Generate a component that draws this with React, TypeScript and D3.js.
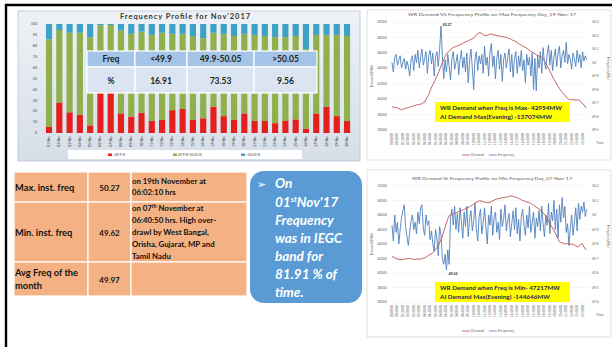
import React from 'react';
import * as d3 from 'd3';

// ---------- Bar chart data (Frequency Profile for Nov'2017) ----------
const dayLabels = ["01-Nov","02-Nov","03-Nov","04-Nov","05-Nov","06-Nov","07-Nov","08-Nov","09-Nov","10-Nov","11-Nov","12-Nov","13-Nov","14-Nov","15-Nov","16-Nov","17-Nov","18-Nov","19-Nov","20-Nov","21-Nov","22-Nov","23-Nov","24-Nov","25-Nov","26-Nov","27-Nov","28-Nov","29-Nov","30-Nov"];
const belowPct = [5.5,28,19,16.5,7,42,40,18,15,18.5,11,12,21,22,12,13.5,24,15.5,12,18,11,11,9,11,12.5,4,18,24,15.5,11];
const withinPct = [80.5,66.5,73,75.5,81,57,59,76,76,74.5,79,80,70,69,77,73.5,68,75.5,77,73,79,78,79,77,76.5,73,72,66,74.5,78];
const abovePct = [14,5.5,8,8,12,1,1,6,9,7,10,8,9,9,11,13,8,9,11,9,10,11,12,12,11,23,10,10,10,11];
const pctTicks = [0,10,20,30,40,50,60,70,80,90,100];
const seriesNames = ["<49.9 %","49.9 %-50.05 %",">50.05 %"];
const bandHeaders = ["Freq","<49.9","49.9-50.05",">50.05"];
const bandValues = ["%","16.91","73.53","9.56"];

// ---------- Line charts ----------
const timeLabels = ["00:00:00","00:40:00","01:20:00","02:00:00","02:40:00","03:20:00","04:00:00","04:40:00","05:20:00","06:00:00","06:40:00","07:20:00","08:00:00","08:40:00","09:20:00","10:00:00","10:40:00","11:20:00","12:00:00","12:40:00","13:20:00","14:00:00","14:40:00","15:20:00","16:00:00","16:40:00","17:20:00","18:00:00","18:40:00","19:20:00","20:00:00","20:40:00","21:20:00","22:00:00","22:40:00","23:20:00"];

// 19-Nov-17, frequency every 10 min (Hz)
const maxDayFreq = [
  50.00,49.93,50.04,50.06,49.98,50.02, 50.05,49.96,50.00,50.03,49.95,50.01,
  49.97,49.90,50.02,50.05,49.94,50.06, 50.00,50.09,49.96,50.04,50.10,49.98,
  50.03,50.08,49.92,50.05,50.09,49.99, 50.07,49.90,50.04,50.08,49.97,50.10,
  50.27,50.05,49.88,50.02,49.93,50.06, 49.97,49.87,50.03,50.08,49.95,50.00,
  50.06,49.91,50.02,50.09,49.96,50.04, 49.93,50.07,49.85,50.01,50.10,49.96,
  49.80,50.03,50.08,49.94,50.05,49.99, 50.06,49.92,50.12,49.98,50.04,49.90,
  50.08,50.14,49.97,50.05,49.88,50.03, 50.09,49.95,50.06,49.86,50.02,50.07,
  49.96,50.04,50.10,49.93,50.06,49.89, 50.03,50.08,49.92,50.05,49.97,50.09,
  49.94,50.02,49.85,50.06,49.98,50.04, 49.90,50.07,49.80,50.03,49.79,50.05,
  49.96,50.08,49.92,50.11,50.00,49.95, 50.06,50.13,49.98,50.09,49.94,50.04,
  50.10,49.97,50.07,50.12,49.96,50.05, 50.09,50.00,50.15,49.99,50.06,50.02,
  49.95,50.07,50.03,49.97,50.09,50.00, 50.06,49.96,50.08,50.01,50.05,50.02
];
// 19-Nov-17, WR demand every 15 min (MW)
const maxDayDemand = [
  39050,38900,38950,38800, 38700,38620,38750,38850, 38900,39000,39100,39150,
  39250,39300,39350,39490, 39600,40150,40600,41300, 41900,42400,43000,43600,
  44300,44900,45500,46000, 46200,46500,46690,46800, 46900,47000,47120,47300,
  47400,47500,47650,47780, 47900,48200,48500,48650, 48500,48300,48210,48300,
  48450,48400,48300,48250, 48200,48150,48100,48050, 48000,47900,47800,47650,
  47550,47400,47200,47050, 46900,46750,46600,46400, 46200,46050,45900,45700,
  45600,45500,45200,44800, 44300,43800,43300,42700, 42300,41800,41400,41010,
  40700,40400,40100,39930, 39900,39950,39850,39930, 39800,39500,39270,38840
];
// 07-Nov-17, frequency every 10 min (Hz)
const minDayFreq = [
  49.93,49.82,50.00,49.88,49.95,49.80, 49.90,49.98,50.03,50.07,49.92,49.85,
  49.79,49.88,49.96,50.00,49.90,49.95, 49.87,50.02,49.94,50.05,50.07,49.91,
  49.86,50.00,49.93,49.96,49.83,49.89, 49.80,49.75,49.90,49.84,49.72,49.92,
  49.86,49.70,49.66,49.73,49.62,49.76, 49.66,49.98,50.04,49.93,50.06,49.90,
  50.01,49.88,50.05,49.95,49.84,50.02, 49.92,50.06,49.85,49.97,50.03,49.89,
  49.96,50.08,49.90,49.82,49.99,50.04, 49.87,49.95,50.05,49.91,49.80,50.00,
  49.93,50.06,49.86,49.98,50.02,49.88, 49.95,49.83,50.04,49.92,49.97,50.07,
  49.89,49.96,50.01,49.85,49.94,50.03, 49.90,50.05,49.87,49.97,49.82,49.99,
  50.04,49.93,49.86,50.00,49.91,50.06, 49.88,49.95,50.02,49.84,49.98,49.92,
  50.03,49.89,50.06,49.94,49.85,50.00, 49.93,50.08,49.87,50.02,49.96,50.10,
  49.90,50.04,49.84,50.07,49.95,50.12, 49.98,50.06,49.88,49.94,49.79,49.91,
  50.00,49.86,49.95,50.05,49.89,50.08, 49.97,50.06,50.02,50.09,49.99,50.04
];
// 07-Nov-17, WR demand every 15 min (MW)
const minDayDemand = [
  42280,42150,42000,41900, 41850,41830,41900,41950, 42000,41970,41900,41850,
  41900,41950,41900,42000, 42100,42280,42450,42600, 42800,43100,43500,44000,
  44600,45400,46300,47200, 47900,48100,48200,48300, 48380,48500,48600,48750,
  48840,49000,49150,49300, 49520,49700,49850,49970, 49900,49800,49750,49700,
  49740,49900,50050,50190, 50250,50300,50380,50420, 50450,50550,50640,50600,
  50500,50420,50300,50150, 50000,49900,49800,49740, 49600,49400,49200,49000,
  48840,48600,48300,48000, 47600,47000,46500,46000, 45500,44900,44310,44200,
  44100,44000,44050,43950, 44000,43900,43700,43630, 43800,44090,43600,43190
];
const maxDayDemandTicks = [36000,38000,40000,42000,44000,46000,48000,50000];
const maxDayFreqTicks = [49.5,49.6,49.7,49.8,49.9,50,50.1,50.2,50.3];
const minDayDemandTicks = [36000,38000,40000,42000,44000,46000,48000,50000,52000];
const minDayFreqTicks = [49.4,49.5,49.6,49.7,49.8,49.9,50,50.1,50.2];

const FONT = "Lato, 'Open Sans', 'DejaVu Sans', sans-serif";

function BarPanel() {
  const x = d3.scaleBand<string>().domain(dayLabels).range([43.9, 352.2]).paddingInner(0.4).paddingOuter(0.2);
  const y = d3.scaleLinear().domain([0, 100]).range([133, 24]);
  const rows = dayLabels.map((d, i) => ({ day: d, below: belowPct[i], within: withinPct[i], above: abovePct[i] }));
  const stacked = d3.stack<any>().keys(['below', 'within', 'above'])(rows);
  const colors = ['#e3201e', '#8fb04c', '#3ea2c7'];
  const tableX = [87, 135, 187, 254, 317];
  const tableY = [51, 67, 93];
  return (
    <g>
      <defs>
        <linearGradient id="panelBg" x1="0" y1="0" x2="0" y2="1">
          <stop offset="0" stopColor="#eef2f7" />
          <stop offset="1" stopColor="#d6dee8" />
        </linearGradient>
      </defs>
      <rect x={18} y={11} width={342} height={150} fill="url(#panelBg)" stroke="#b9c6d6" strokeWidth={0.8} />
      <text x={185} y={19} textAnchor="middle" fontSize={7.5} fontWeight="bold" fill="#333" textLength={130} lengthAdjust="spacing" fontFamily={FONT}>Frequency Profile for Nov'2017</text>
      {pctTicks.map(t => (
        <text key={t} x={37} y={y(t) + 1.2} textAnchor="end" fontSize={3.6} fill="#444" fontFamily={FONT}>{t}</text>
      ))}
      {stacked.map((s, k) => (
        <g key={k}>
          {s.map((d: any, i: number) => (
            <rect key={i} x={x(dayLabels[i])} width={x.bandwidth()} y={y(d[1])} height={y(d[0]) - y(d[1])} fill={colors[k]} />
          ))}
        </g>
      ))}
      {dayLabels.map(d => (
        <text key={d} transform={`translate(${(x(d) as number) + x.bandwidth() / 2 + 1},136) rotate(-90)`} textAnchor="end" fontSize={3.2} fill="#333" fontFamily={FONT}>{d}</text>
      ))}
      <rect x={68} y={150} width={234} height={9} fill="#ffffff" />
      {seriesNames.map((n, i) => {
        const lx = [108, 173, 241][i];
        return (
          <g key={n}>
            <rect x={lx} y={153.5} width={4} height={2.5} fill={colors[i]} />
            <text x={lx + 5} y={156} fontSize={3.4} fill="#444" fontFamily={FONT}>{n}</text>
          </g>
        );
      })}
      {/* overlay table */}
      {bandHeaders.map((h, i) => (
        <g key={h}>
          <rect x={tableX[i]} y={tableY[0]} width={tableX[i + 1] - tableX[i]} height={tableY[1] - tableY[0]} fill="#a4c5e8" stroke="#fff" strokeWidth={1.2} />
          <rect x={tableX[i]} y={tableY[1]} width={tableX[i + 1] - tableX[i]} height={tableY[2] - tableY[1]} fill="#dbe5f2" stroke="#fff" strokeWidth={1.2} />
          <text x={(tableX[i] + tableX[i + 1]) / 2} y={62} textAnchor="middle" fontSize={8.5} fontWeight="bold" fill="#222" fontFamily={FONT}>{h}</text>
          <text x={(tableX[i] + tableX[i + 1]) / 2} y={83.5} textAnchor="middle" fontSize={8.5} fontWeight="bold" fill="#222" fontFamily={FONT}>{bandValues[i]}</text>
        </g>
      ))}
    </g>
  );
}

type LineProps = {
  id: string; panelY: number; panelH: number; title: string; titleY: number; titleLen: number;
  plotTop: number; plotBottom: number; demand: number[]; freq: number[];
  demandTicks: number[]; freqTicks: number[]; annotText: string; annotIdx: number; annotDx: number; annotDy: number;
  boxY: number; boxLines: string[]; boxLens: number[]; legendY: number;
};

function LinePanel(p: LineProps) {
  const x = d3.scaleLinear().domain([0, 24]).range([392, 588]);
  const yD = d3.scaleLinear().domain(d3.extent(p.demandTicks) as [number, number]).range([p.plotBottom, p.plotTop]);
  const yF = d3.scaleLinear().domain(d3.extent(p.freqTicks) as [number, number]).range([p.plotBottom, p.plotTop]);
  const dLine = d3.line<number>().x((_, i) => x(i / 4)).y(d => yD(d));
  const fLine = d3.line<number>().x((_, i) => x(i / 6)).y(d => yF(d));
  const ax = x(p.annotIdx / 6), ay = yF(p.freq[p.annotIdx]);
  const midY = (p.plotTop + p.plotBottom) / 2;
  return (
    <g fontFamily={FONT}>
      <rect x={367} y={p.panelY} width={244} height={p.panelH} fill="#fff" stroke="#d9d9d9" strokeWidth={0.8} />
      <text x={492} y={p.titleY} textAnchor="middle" fontSize={4.6} fill="#595959" textLength={p.titleLen} lengthAdjust="spacingAndGlyphs">{p.title}</text>
      {p.demandTicks.map(t => (
        <g key={t}>
          <line x1={390} x2={590} y1={yD(t)} y2={yD(t)} stroke="#ececec" strokeWidth={0.5} />
          <text x={387} y={yD(t) + 1.2} textAnchor="end" fontSize={3.4} fill="#666">{t}</text>
        </g>
      ))}
      {p.freqTicks.map(t => (
        <text key={t} x={592} y={yF(t) + 1.2} fontSize={3.4} fill="#666">{t}</text>
      ))}
      <text transform={`translate(373,${midY}) rotate(-90)`} textAnchor="middle" fontSize={3.6} fill="#666">Demand(MW)</text>
      <text transform={`translate(607,${midY - 8}) rotate(90)`} textAnchor="middle" fontSize={3.6} fill="#666">Frequency(Hz)</text>
      {timeLabels.map((t, i) => (
        <text key={t} transform={`translate(${x(i * 2 / 3) + 1},${p.plotBottom + 3}) rotate(-90)`} textAnchor="end" fontSize={3} fill="#666">{t}</text>
      ))}
      <text x={596} y={p.plotBottom + 14} fontSize={3.6} fill="#666">Time</text>
      <path d={fLine(p.freq) || ''} fill="none" stroke="#4f81bd" strokeWidth={0.9} strokeLinejoin="round" />
      <path d={dLine(p.demand) || ''} fill="none" stroke="#c0504d" strokeWidth={0.9} />
      <text x={ax + p.annotDx} y={ay + p.annotDy} fontSize={3.6} fontWeight="bold" fill="#333">{p.annotText}</text>
      <rect x={435} y={p.boxY} width={135} height={20} fill="#ffff00" />
      {p.boxLines.map((l, i) => (
        <text key={l} x={440} y={p.boxY + 8 + i * 9} fontSize={6.3} fontWeight="bold" fill="#1f1f5f" textLength={p.boxLens[i]} lengthAdjust="spacingAndGlyphs">{l}</text>
      ))}
      <line x1={462} x2={470} y1={p.legendY - 1} y2={p.legendY - 1} stroke="#c0504d" strokeWidth={0.8} />
      <text x={471} y={p.legendY} fontSize={3.5} fill="#666">Demand</text>
      <line x1={489} x2={497} y1={p.legendY - 1} y2={p.legendY - 1} stroke="#4f81bd" strokeWidth={0.8} />
      <text x={498} y={p.legendY} fontSize={3.5} fill="#666">Frequency</text>
    </g>
  );
}

function InfoTable() {
  const cx = [14, 88, 131, 247];
  const ry = [172, 202, 262, 296];
  const t = { fontFamily: FONT, fontWeight: 'bold' as const, fill: '#111' };
  return (
    <g>
      {[0, 1, 2].map(r => [0, 1, 2].map(c => (
        <rect key={`${r}-${c}`} x={cx[c]} y={ry[r]} width={cx[c + 1] - cx[c]} height={ry[r + 1] - ry[r]} fill="#f4b183" stroke="#fff" strokeWidth={1.2} />
      )))}
      <text x={15} y={191} fontSize={9.3} {...t}>Max. inst. freq</text>
      <text x={15} y={236} fontSize={9.3} {...t}>Min. inst. freq</text>
      <text x={15} y={276} fontSize={9.3} {...t}>Avg Freq of the</text>
      <text x={15} y={289} fontSize={9.3} {...t}>month</text>
      <text x={109.5} y={191} fontSize={8} textAnchor="middle" {...t}>50.27</text>
      <text x={109.5} y={236} fontSize={8} textAnchor="middle" {...t}>49.62</text>
      <text x={109.5} y={283} fontSize={8} textAnchor="middle" {...t}>49.97</text>
      <text x={132} y={184} fontSize={7.8} {...t}>on 19th November at</text>
      <text x={132} y={195} fontSize={7.8} {...t}>06:02:10 hrs</text>
      <text x={132} y={211} fontSize={7.8} {...t}>on 07<tspan fontSize={5} dy={-3}>th</tspan><tspan dy={3}> November at</tspan></text>
      <text x={132} y={223} fontSize={7.8} {...t}>06:40:50 hrs. High over-</text>
      <text x={132} y={235} fontSize={7.8} {...t}>drawl by West Bangal,</text>
      <text x={132} y={247} fontSize={7.8} {...t}>Orisha, Gujarat, MP and</text>
      <text x={132} y={259} fontSize={7.8} {...t}>Tamil Nadu</text>
    </g>
  );
}

function Callout() {
  const t = { fontFamily: FONT, fontWeight: 'bold' as const, fontStyle: 'italic' as const, fill: '#fff', fontSize: 13.5 };
  return (
    <g>
      <rect x={250} y={171} width={112} height={132} rx={14} fill="#5b9bd5" />
      <text x={257} y={188} fontFamily="'DejaVu Sans', sans-serif" fontSize={11} fill="#fff">➢</text>
      <text x={275} y={188} {...t}>On</text>
      <text x={275} y={207} {...t}>01<tspan fontSize={8} dy={-5}>st</tspan><tspan dy={5}>Nov'17</tspan></text>
      <text x={275} y={225} {...t}>Frequency</text>
      <text x={275} y={243} {...t}>was in IEGC</text>
      <text x={275} y={261} {...t}>band for</text>
      <text x={275} y={279} {...t}>81.91 % of</text>
      <text x={275} y={297} {...t}>time.</text>
    </g>
  );
}

export default function App() {
  React.useEffect(() => { document.body.style.margin = '0'; }, []);
  return (
    <div style={{ position: 'absolute', left: 0, top: 0 }}>
      <svg width={612} height={347} style={{ display: 'block', background: '#fff' }}>
        <rect x={0} y={0} width={612} height={347} fill="#fff" />
        <line x1={5} x2={612} y1={5} y2={5} stroke="#000" strokeWidth={2.6} />
        <line x1={6} x2={6} y1={4} y2={347} stroke="#000" strokeWidth={2.4} />
        <BarPanel />
        <LinePanel id="max" panelY={10} panelH={150}
          title="WR Demand VS Frequency Profile on Max Frequency Day_19-Nov-17" titleY={16} titleLen={168}
          plotTop={22} plotBottom={130} demand={maxDayDemand} freq={maxDayFreq}
          demandTicks={maxDayDemandTicks} freqTicks={maxDayFreqTicks}
          annotText="50.27" annotIdx={36} annotDx={1.5} annotDy={-0.5}
          boxY={102} boxLines={["WR Demand when Freq is Max- 42954MW", "AI Demand Max(Evening) -137074MW"]} boxLens={[122, 112]}
          legendY={156} />
        <LinePanel id="min" panelY={170} panelH={167}
          title="WR Demand Vs Frequency Profile on Min Frequency Day_07-Nov-17" titleY={180} titleLen={160}
          plotTop={186} plotBottom={302} demand={minDayDemand} freq={minDayFreq}
          demandTicks={minDayDemandTicks} freqTicks={minDayFreqTicks}
          annotText="49.62" annotIdx={40} annotDx={2} annotDy={4.5}
          boxY={282} boxLines={["WR Demand when Freq is Min- 47217MW", "AI Demand Max(Evening) -144646MW"]} boxLens={[120, 110]}
          legendY={332} />
        <InfoTable />
        <Callout />
      </svg>
    </div>
  );
}
